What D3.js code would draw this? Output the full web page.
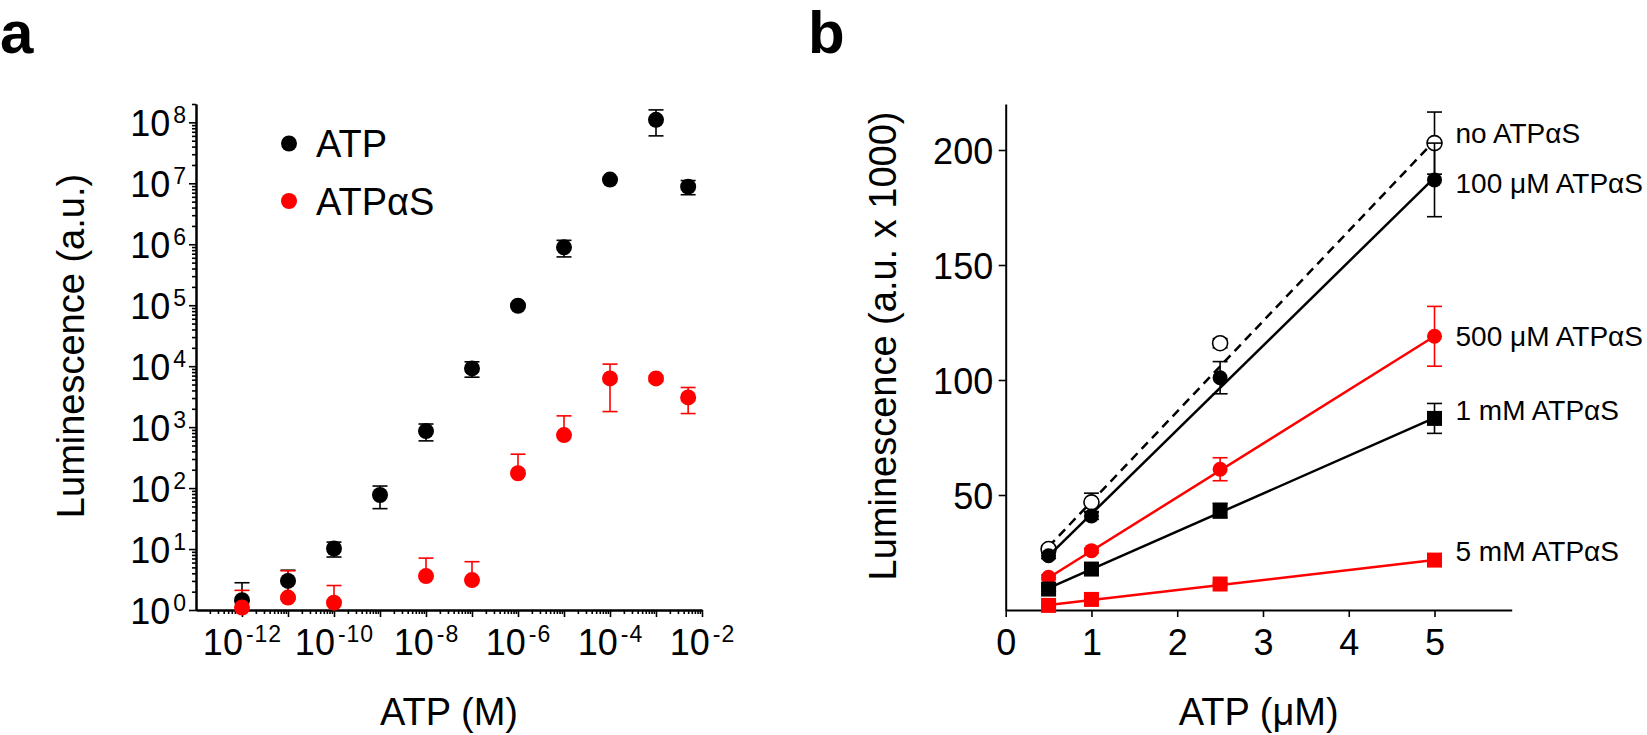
<!DOCTYPE html>
<html>
<head>
<meta charset="utf-8">
<script src="https://cdn.jsdelivr.net/npm/d3@7"></script>
<style>
  body { margin: 0; background: #fff; }
  svg text { font-family: Arial, "Liberation Sans", sans-serif; }
</style>
</head>
<body>
<script>
// ---------- panel a data (log-log dose response) ----------
const concATP = [1e-12, 1e-11, 1e-10, 1e-9, 1e-8, 1e-7, 1e-6, 1e-5, 1e-4, 1e-3, 5e-3];
const lumATP = [1.45, 3.0, 10.2, 77, 860, 9200, 98000, 890000, 1.15e7, 1.1e8, 8.8e6];
const sdATP = [1.35, 1.5, 2.8, 31, 265, 2600, 5000, 270000, 4e5, 5e7, 2.3e6];

const concATPaS = [1e-12, 1e-11, 1e-10, 1e-8, 1e-7, 1e-6, 1e-5, 1e-4, 1e-3, 5e-3];
const lumATPaS = [1.1, 1.6, 1.32, 3.6, 3.1, 175, 740, 6300, 6300, 3070];
const sdATPaS = [1.0, 2.8, 1.2, 3.5, 3.1, 185, 790, 4500, 600, 1400];

const legendA = ["ATP", "ATPαS"];
const xTicksA = [1e-12, 1e-11, 1e-10, 1e-9, 1e-8, 1e-7, 1e-6, 1e-5, 1e-4, 1e-3, 1e-2];
const yTicksA = [1, 10, 1e2, 1e3, 1e4, 1e5, 1e6, 1e7, 1e8];

// ---------- panel b data (linear, x 1000) ----------
const concB = [0.5, 1, 2.5, 5];
const lumNo = [26.5, 46.8, 116, 203];
const sdNo = [1.5, 4, 2, 13.5];
const lum100uM = [23.6, 40.9, 101, 187];
const sd100uM = [1.2, 1.5, 7, 16];
const lum500uM = [14.2, 25.8, 61.2, 119];
const sd500uM = [1, 1, 5, 13];
const lum1mM = [9.1, 17.8, 43.2, 83.3];
const sd1mM = [1, 1, 3.2, 6.5];
const lum5mM = [2.0, 4.6, 11.3, 21.7];
const sd5mM = [0.5, 0.5, 0.5, 1];
// fitted straight lines, value at x = 0.5 and x = 5
const fitNo = [27.5, 204];
const fit100uM = [23.5, 188];
const fit500uM = [14, 119];
const fit1mM = [9.5, 83.5];
const fit5mM = [2.2, 21.7];

const labelsB = ["no ATPαS", "100 μM ATPαS", "500 μM ATPαS", "1 mM ATPαS", "5 mM ATPαS"];
const xTicksB = [0, 1, 2, 3, 4, 5];
const yTicksB = [50, 100, 150, 200];

const red = "#ff0000";
const font = 'Arial, "Liberation Sans", sans-serif';

const svg = d3.select("body").append("svg")
  .attr("width", 1647)
  .attr("height", 735);

const styleAxis = (g) => {
  g.attr("font-family", font).attr("font-size", 36);
  g.selectAll("path").attr("stroke", "#000").attr("stroke-width", 2);
  g.selectAll("line").attr("stroke", "#000").attr("stroke-width", 1.6);
};

// minor ticks 2..9 x 10^k inside a domain
const minorTicks = (lo, hi) => {
  const out = [];
  for (let k = Math.floor(Math.log10(lo)); k < Math.ceil(Math.log10(hi)); k++) {
    for (let m = 2; m <= 9; m++) {
      const v = m * Math.pow(10, k);
      if (v >= lo && v <= hi) out.push(v);
    }
  }
  return out;
};

const powLabels = (g, show) => {
  g.selectAll(".tick text").each(function (d) {
    const e = Math.round(Math.log10(d));
    const t = d3.select(this).text(null);
    if (!show(e)) return;
    t.append("tspan").text("10");
    t.append("tspan").attr("dx", 3).attr("dy", -13).attr("font-size", 23)
      .attr("letter-spacing", 1).text(e);
  });
};

const errorBars = (g, xs, means, sds, x, y, color, floor) => {
  xs.forEach((c, i) => {
    const m = means[i];
    const ends = [m + sds[i]];
    if (m - sds[i] >= floor) ends.push(m - sds[i]);
    ends.forEach((v) => {
      g.append("line")
        .attr("x1", x(c)).attr("x2", x(c))
        .attr("y1", y(m)).attr("y2", y(v))
        .attr("stroke", color).attr("stroke-width", 1.6);
      g.append("line")
        .attr("x1", x(c) - 7.5).attr("x2", x(c) + 7.5)
        .attr("y1", y(v)).attr("y2", y(v))
        .attr("stroke", color).attr("stroke-width", 1.6);
    });
  });
};

// ================= panel a =================
const xA = d3.scaleLog().domain([1e-13, 1e-2]).range([196, 702]);
const yA = d3.scaleLog().domain([1, 2e8]).range([610, 104]);
const gA = svg.append("g");

gA.append("g")
  .attr("transform", "translate(0,610)")
  .call(d3.axisBottom(xA).tickValues(minorTicks(1e-13, 1e-2)).tickSize(4).tickSizeOuter(0).tickFormat(""))
  .call(styleAxis);
gA.append("g")
  .attr("transform", "translate(0,610)")
  .call(d3.axisBottom(xA).tickValues(xTicksA).tickSize(7).tickSizeOuter(0))
  .call(styleAxis)
  .call((g) => powLabels(g, (e) => e % 2 === 0))
  .call((g) => g.selectAll(".tick text").attr("y", 45).attr("dy", null));

gA.append("g")
  .attr("transform", "translate(196,0)")
  .call(d3.axisLeft(yA).tickValues(minorTicks(1, 2e8)).tickSize(4).tickSizeOuter(0).tickFormat(""))
  .call(styleAxis);
gA.append("g")
  .attr("transform", "translate(196,0)")
  .call(d3.axisLeft(yA).tickValues(yTicksA).tickSize(7).tickSizeOuter(0))
  .call(styleAxis)
  .call((g) => powLabels(g, () => true))
  .call((g) => g.selectAll(".tick text").attr("x", -9).attr("y", 13).attr("dy", null));

errorBars(gA, concATP, lumATP, sdATP, xA, yA, "#000", 1);
errorBars(gA, concATPaS, lumATPaS, sdATPaS, xA, yA, red, 1);

gA.selectAll("circle.atp")
  .data(concATP)
  .enter()
  .append("circle")
  .attr("cx", (d) => xA(d))
  .attr("cy", (d, i) => yA(lumATP[i]))
  .attr("r", 8)
  .style("fill", "#000");

gA.selectAll("circle.atpas")
  .data(concATPaS)
  .enter()
  .append("circle")
  .attr("cx", (d) => xA(d))
  .attr("cy", (d, i) => yA(lumATPaS[i]))
  .attr("r", 8)
  .style("fill", red);

const leg = gA.selectAll("g.leg")
  .data(legendA)
  .enter()
  .append("g")
  .attr("transform", (d, i) => `translate(289,${143.5 + i * 57.5})`);
leg.append("circle").attr("r", 8).style("fill", (d, i) => (i ? red : "#000"));
leg.append("text")
  .attr("x", 27).attr("y", 13.5)
  .attr("font-size", 38)
  .text((d) => d);

gA.append("text")
  .attr("transform", "translate(84,346) rotate(-90)")
  .attr("text-anchor", "middle")
  .attr("font-size", 38)
  .text("Luminescence (a.u.)");
gA.append("text")
  .attr("x", 449).attr("y", 725)
  .attr("text-anchor", "middle")
  .attr("font-size", 38)
  .text("ATP (M)");

svg.append("text").attr("x", 0).attr("y", 53)
  .attr("font-size", 60).attr("font-weight", "bold").text("a");

// ================= panel b =================
const xB = d3.scaleLinear().domain([0, 5.9]).range([1005.7, 1511.7]);
const yB = d3.scaleLinear().domain([0, 220]).range([610, 104]);
const gB = svg.append("g");

gB.append("g")
  .attr("transform", "translate(0,610)")
  .call(d3.axisBottom(xB).tickValues(xTicksB).tickSize(7).tickSizeOuter(0).tickFormat(d3.format("d")))
  .call(styleAxis)
  .call((g) => g.selectAll(".tick text").attr("y", 45).attr("dy", null));

gB.append("g")
  .attr("transform", "translate(1005.7,0)")
  .call(d3.axisLeft(yB).tickValues(yTicksB).tickSize(7).tickSizeOuter(0).tickFormat(d3.format("d")))
  .call(styleAxis)
  .call((g) => g.selectAll(".tick text").attr("x", -12.5).attr("y", 13).attr("dy", null));

const seriesB = [
  { mean: lumNo, sd: sdNo, fit: fitNo, color: "#000", shape: "open", dash: "9,6" },
  { mean: lum100uM, sd: sd100uM, fit: fit100uM, color: "#000", shape: "circle", dash: null },
  { mean: lum500uM, sd: sd500uM, fit: fit500uM, color: red, shape: "circle", dash: null },
  { mean: lum1mM, sd: sd1mM, fit: fit1mM, color: "#000", shape: "square", dash: null },
  { mean: lum5mM, sd: sd5mM, fit: fit5mM, color: red, shape: "square", dash: null },
];
const labelDy = [0, 13, 10, 2, 1];

const line = d3.line().x((d) => xB(d[0])).y((d) => yB(d[1]));

seriesB.forEach((s, k) => {
  const fitPts = [[concB[0], s.fit[0]], [concB[concB.length - 1], s.fit[1]]];
  gB.append("path")
    .datum(fitPts)
    .attr("d", line)
    .attr("fill", "none")
    .attr("stroke", s.color)
    .attr("stroke-width", 2.5)
    .attr("stroke-dasharray", s.dash);

  errorBars(gB, concB, s.mean, s.sd, xB, yB, s.color, 0);

  const pts = gB.selectAll(`.pt${k}`)
    .data(concB)
    .enter();
  if (s.shape === "square") {
    pts.append("rect")
      .attr("x", (d) => xB(d) - 7.5)
      .attr("y", (d, i) => yB(s.mean[i]) - 7.5)
      .attr("width", 15)
      .attr("height", 15)
      .style("fill", s.color);
  } else {
    pts.append("circle")
      .attr("cx", (d) => xB(d))
      .attr("cy", (d, i) => yB(s.mean[i]))
      .attr("r", 7.5)
      .style("fill", s.shape === "open" ? "#fff" : s.color)
      .style("stroke", s.shape === "open" ? "#000" : "none")
      .style("stroke-width", 1.6);
  }

  gB.append("text")
    .attr("x", xB(5) + 21)
    .attr("y", yB(s.mean[s.mean.length - 1]) + labelDy[k])
    .attr("font-size", 28)
    .text(labelsB[k]);
});

gB.append("text")
  .attr("transform", "translate(896,346) rotate(-90)")
  .attr("text-anchor", "middle")
  .attr("font-size", 38)
  .text("Luminescence (a.u. x 1000)");
gB.append("text")
  .attr("x", 1258.7).attr("y", 725)
  .attr("text-anchor", "middle")
  .attr("font-size", 38)
  .text("ATP (μM)");

svg.append("text").attr("x", 808).attr("y", 53)
  .attr("font-size", 60).attr("font-weight", "bold").text("b");
</script>
</body>
</html>
